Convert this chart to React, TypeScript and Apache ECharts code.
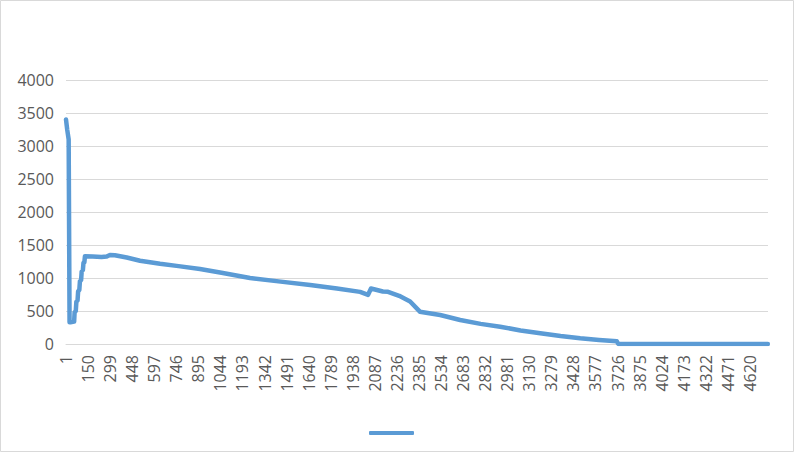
import React, { useEffect, useRef } from "react";
import * as echarts from "echarts";

// sample index (0-based; label shown is index + 1)
const sampleIndex = [
  0, 8, 18, 24, 30, 55, 58, 66, 70, 78, 82, 90, 94, 102, 106, 114, 118, 124, 128,
  180, 240, 275, 297, 330, 410, 500, 635, 760, 905, 1050, 1243, 1450, 1649, 1830,
  1986, 2040, 2060, 2080, 2140, 2175, 2250, 2324, 2390, 2527, 2662, 2800, 2932,
  3070, 3203, 3340, 3473, 3600, 3720, 3730, 4740,
];
const sampleValue = [
  3400, 3250, 3100, 330, 330, 340, 480, 500, 640, 660, 800, 820, 950, 970, 1100,
  1120, 1230, 1240, 1330, 1325, 1320, 1325, 1350, 1345, 1310, 1262, 1215, 1180,
  1135, 1080, 1000, 945, 895, 840, 790, 745, 840, 830, 795, 790, 730, 645, 490,
  440, 364, 305, 262, 205, 162, 120, 86, 60, 40, 0, 0,
];
const yTicks = { min: 0, max: 4000, interval: 500 };
const xTicks = { min: 0, max: 4741, interval: 149 };

export default function App() {
  const ref = useRef<HTMLDivElement>(null);
  useEffect(() => {
    if (!ref.current) return;
    const chart = echarts.init(ref.current, undefined, { renderer: "svg" });
    const data = sampleIndex.map((x, i) => [x, sampleValue[i]]);
    chart.setOption({
      animation: false,
      backgroundColor: "#ffffff",
      textStyle: { fontFamily: "Open Sans" },
      graphic: [
        {
          type: "rect",
          shape: { x: 0.5, y: 0.5, width: 793, height: 451 },
          style: { fill: "none", stroke: "#d9d9d9", lineWidth: 1 },
          silent: true,
        },
      ],
      grid: { left: 66, right: 26, top: 80, bottom: 108 },
      legend: {
        left: 364,
        top: 426,
        icon: "roundRect",
        itemWidth: 45,
        itemHeight: 4,
        data: [" "],
        textStyle: { fontSize: 1 },
      },
      xAxis: {
        type: "value",
        min: xTicks.min,
        max: xTicks.max,
        interval: xTicks.interval,
        axisLine: { show: true, lineStyle: { color: "#d9d9d9", width: 1 } },
        axisTick: { show: false },
        splitLine: { show: false },
        axisLabel: {
          rotate: 90,
          margin: 11,
          fontSize: 16,
          color: "#595959",
          fontFamily: "Open Sans",
          showMaxLabel: false,
          formatter: (v: number) => String(Math.round(v) + 1),
        },
      },
      yAxis: {
        type: "value",
        min: yTicks.min,
        max: yTicks.max,
        interval: yTicks.interval,
        axisLine: { show: false },
        axisTick: { show: false },
        splitLine: { lineStyle: { color: "#d9d9d9", width: 1 } },
        axisLabel: {
          margin: 12,
          fontSize: 16,
          color: "#595959",
          fontFamily: "Open Sans",
          formatter: (v: number) => String(v),
        },
      },
      series: [
        {
          name: " ",
          type: "line",
          data,
          symbol: "none",
          clip: true,
          lineStyle: { color: "#5B9BD5", width: 4.5, join: "round", cap: "round" },
          itemStyle: { color: "#5B9BD5" },
        },
      ],
    });
    return () => chart.dispose();
  }, []);
  return (
    <div
      ref={ref}
      style={{ position: "fixed", left: 0, top: 0, width: 794, height: 452 }}
    />
  );
}
